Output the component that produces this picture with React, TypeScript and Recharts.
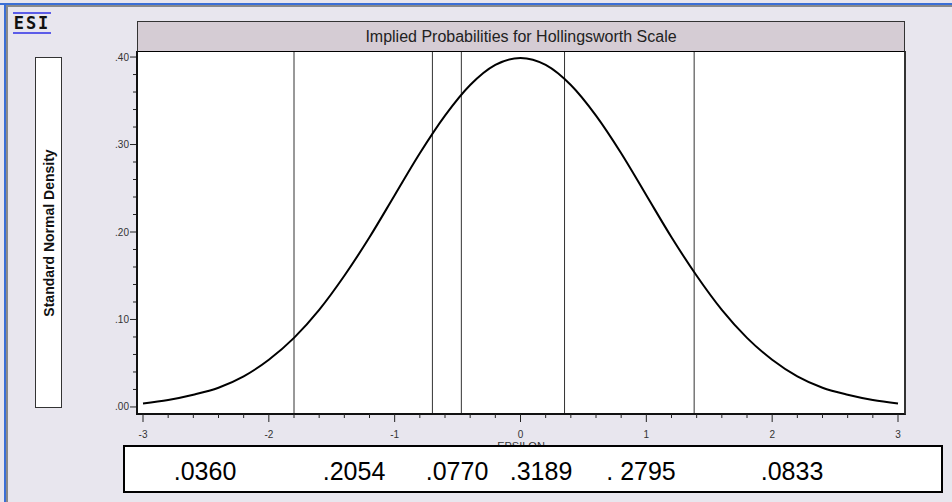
import { LineChart, Line, XAxis, YAxis, ReferenceLine } from 'recharts';

// epsilon grid and the standard normal density
const EPS = [-3, -2.8, -2.6, -2.4, -2.2, -2, -1.8, -1.6, -1.4, -1.2, -1, -0.8, -0.6, -0.4, -0.2, 0,
  0.2, 0.4, 0.6, 0.8, 1, 1.2, 1.4, 1.6, 1.8, 2, 2.2, 2.4, 2.6, 2.8, 3];
const DENSITY = [0.004, 0.008, 0.014, 0.022, 0.035, 0.054, 0.079, 0.111, 0.150, 0.194, 0.242, 0.290,
  0.333, 0.368, 0.391, 0.399, 0.391, 0.368, 0.333, 0.290, 0.242, 0.194, 0.150, 0.111, 0.079, 0.054,
  0.035, 0.022, 0.014, 0.008, 0.004];

// thresholds between the scale categories
const CUTS = [-1.80, -0.70, -0.47, 0.35, 1.38];
const PROBS = ['.0360', '.2054', '.0770', '.3189', '. 2795', '.0833'];

const X_TICKS = [-3, -2.8, -2.6, -2.4, -2.2, -2, -1.8, -1.6, -1.4, -1.2, -1, -0.8, -0.6, -0.4, -0.2, 0,
  0.2, 0.4, 0.6, 0.8, 1, 1.2, 1.4, 1.6, 1.8, 2, 2.2, 2.4, 2.6, 2.8, 3];
const Y_TICKS = [0, 0.02, 0.04, 0.06, 0.08, 0.1, 0.12, 0.14, 0.16, 0.18, 0.2, 0.22, 0.24, 0.26, 0.28,
  0.3, 0.32, 0.34, 0.36, 0.38, 0.4];

const TITLE = 'Implied Probabilities for Hollingsworth Scale';
const Y_LABEL = 'Standard Normal Density';
const X_LABEL = 'EPSILON';

const data = EPS.map((e, i) => ({ eps: e, density: DENSITY[i] }));

const FONT = '"Liberation Sans", Arial, sans-serif';
const BG = '#e8e6ee';
const PROB_CENTERS = [205, 354, 457, 541, 641, 792];

const isWhole = (v: number, step: number) => Math.abs(v / step - Math.round(v / step)) < 1e-6;

const XTick = ({ x, y, payload }: any) => {
  const major = isWhole(payload.value, 1);
  return (
    <g>
      <line x1={x} x2={x} y1={y + 1} y2={y + (major ? 9 : 5)} stroke='#222' strokeWidth={1} />
      {major && (
        <text x={x} y={y + 25} textAnchor='middle' fontSize={10} fontFamily={FONT} fill='#333'>
          {payload.value}
        </text>
      )}
    </g>
  );
};

const YTick = ({ x, y, payload }: any) => {
  const major = isWhole(payload.value, 0.1);
  return (
    <g>
      <line x1={x - (major ? 7 : 4)} x2={x - 1} y1={y} y2={y} stroke='#222' strokeWidth={1} />
      {major && (
        <text x={x - 8} y={y + 3.5} textAnchor='end' fontSize={10} fontFamily={FONT} fill='#333'>
          {payload.value.toFixed(2).replace(/^0/, '')}
        </text>
      )}
    </g>
  );
};

const abs = (l: number, t: number, w: number, h: number) => ({
  position: 'absolute' as const, left: l, top: t, width: w, height: h, boxSizing: 'border-box' as const,
});

export default function App() {
  return (
    <div style={{ ...abs(0, 0, 952, 502), background: BG, overflow: 'hidden', fontFamily: FONT }}>
      {/* window frame */}
      <div style={{ ...abs(0, 3, 952, 2), background: '#3b6fd6' }} />
      <div style={{ ...abs(5, 5, 947, 2), background: '#8a8a8a' }} />
      <div style={{ ...abs(4, 3, 2, 499), background: '#3b6fd6' }} />
      <div style={{ ...abs(6, 5, 2, 497), background: '#8a8a8a' }} />

      {/* logo */}
      <div style={{ ...abs(13, 12, 38, 2), background: '#5c5ce8' }} />
      <div style={{ ...abs(13, 32, 38, 2), background: '#5c5ce8' }} />
      <div style={{ ...abs(13, 14, 38, 18), fontFamily: '"DejaVu Sans Mono", monospace', fontWeight: 'bold',
        fontSize: 17, lineHeight: '18px', letterSpacing: 2, textAlign: 'center', color: '#111' }}>ESI</div>

      {/* y label box */}
      <div style={{ ...abs(35, 57, 27, 351), background: '#fff', border: '1px solid #333' }}>
        <div style={{ position: 'absolute', left: 13, top: 175, transform: 'translate(-50%, -50%) rotate(-90deg)',
          whiteSpace: 'nowrap', fontWeight: 'bold', fontSize: 14, color: '#111' }}>{Y_LABEL}</div>
      </div>

      {/* plot background */}
      <div style={{ ...abs(136, 51, 770, 364), background: '#fff', borderLeft: '2px solid #111',
        borderBottom: '2px solid #111', borderRight: '2px solid #333' }} />

      <div style={{ position: 'absolute', left: 0, top: 0 }}>
        <LineChart width={952} height={502} data={data} margin={{ top: 51, right: 47, bottom: 59, left: 77 }}>
          <XAxis dataKey='eps' type='number' domain={[-3, 3]} ticks={X_TICKS} interval={0}
            padding={{ left: 6, right: 7 }} height={30} axisLine={false} tickLine={false}
            tickSize={0} tickMargin={0} tick={<XTick />} />
          <YAxis type='number' domain={[-0.0069, 0.4069]} allowDataOverflow ticks={Y_TICKS} interval={0}
            width={60} axisLine={false} tickLine={false} tickSize={0} tickMargin={0} tick={<YTick />} />
          {CUTS.map((c) => (
            <ReferenceLine key={c} x={c} stroke='#333' strokeWidth={1} ifOverflow='extendDomain' />
          ))}
          <Line type='monotone' dataKey='density' stroke='#000' strokeWidth={2} dot={false}
            isAnimationActive={false} />
        </LineChart>
      </div>

      {/* x label, partly hidden by the probability box */}
      <div style={{ position: 'absolute', left: 521, top: 441, transform: 'translateX(-50%)', fontSize: 11,
        lineHeight: '11px', color: '#333' }}>{X_LABEL}</div>

      {/* title bar */}
      <div style={{ ...abs(137, 21, 768, 31), background: '#d5ccd4', border: '1px solid #333',
        borderBottom: '1px solid #000', textAlign: 'center', fontSize: 16, lineHeight: '29px', color: '#222' }}>
        {TITLE}
      </div>

      {/* category probabilities */}
      <div style={{ ...abs(123, 445, 820, 48), background: '#fff', border: '2px solid #000' }} />
      {PROBS.map((p, i) => (
        <div key={i} style={{ position: 'absolute', left: PROB_CENTERS[i], top: 456, transform: 'translateX(-50%)',
          fontSize: 25, lineHeight: '30px', whiteSpace: 'pre', color: '#000' }}>{p}</div>
      ))}
    </div>
  );
}
